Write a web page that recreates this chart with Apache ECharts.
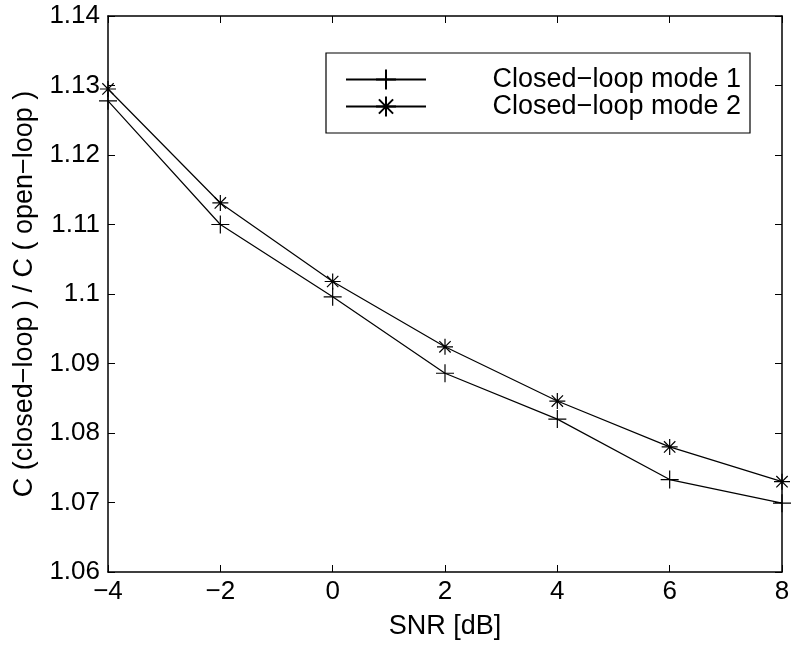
<!DOCTYPE html>
<html>
<head>
<meta charset="utf-8">
<script src="https://cdn.jsdelivr.net/npm/echarts@6/dist/echarts.min.js"></script>
<style>
  html, body { margin: 0; padding: 0; background: #fff; }
  #main { width: 791px; height: 646px; }
</style>
</head>
<body>
<div id="main"></div>
<script>
var snr = [-4, -2, 0, 2, 4, 6, 8];
var mode1 = [1.1278, 1.1100, 1.0996, 1.0886, 1.0820, 1.0733, 1.0699];
var mode2 = [1.1295, 1.1131, 1.1018, 1.0924, 1.0846, 1.0780, 1.0730];
var seriesNames = ['Closed\u2212loop mode 1', 'Closed\u2212loop mode 2'];

var plusPath = 'path://M10,0L10,20M0,10L20,10';
var starPath = 'path://M10,0L10,20M0,10L20,10M2.9,2.9L17.1,17.1M2.9,17.1L17.1,2.9';

var myChart = echarts.init(document.getElementById('main'));

function pairs(xs, ys) {
    return xs.map(function (x, i) { return [x, ys[i]]; });
}

function fmtMinus(v) {
    return String(v).replace('-', '\u2212');
}

var font = 'Liberation Sans, Arial, sans-serif';
var fs = 26;   // tick labels
var fsText = 27;   // axis names and legend

var option = {
    animation: false,
    backgroundColor: '#fff',
    grid: { left: 108, right: 9, top: 16, bottom: 74, outerBoundsMode: 'none', containLabel: false },
    legend: {
        orient: 'vertical',
        left: 326,
        top: 53,
        itemWidth: 80,
        itemHeight: 25,
        itemGap: 0,
        padding: [13, 9, 13, 19],
        borderColor: '#000',
        borderWidth: 1.2,
        backgroundColor: '#fff',
        data: seriesNames,
        formatter: '{t|{name}}',
        textStyle: {
            color: '#000', fontFamily: font, fontSize: fsText,
            rich: { t: { width: 310, align: 'right', lineHeight: 25, fontSize: fsText, fontFamily: font, color: '#000' } }
        }
    },
    xAxis: [{
        type: 'value', min: -4, max: 8, interval: 2,
        name: 'SNR [dB]', nameLocation: 'middle', nameGap: 41,
        nameTextStyle: { color: '#000', fontFamily: font, fontSize: fsText },
        axisLine: { onZero: false, lineStyle: { color: '#000', width: 1.5 } },
        axisTick: { inside: true, length: 7, lineStyle: { color: '#000' } },
        axisLabel: { color: '#000', fontFamily: font, fontSize: fs, margin: 7, formatter: fmtMinus },
        splitLine: { show: false }
    }, {
        type: 'value', position: 'top', min: -4, max: 8, interval: 2,
        axisLine: { onZero: false, lineStyle: { color: '#000', width: 1.5 } },
        axisTick: { inside: true, length: 7, lineStyle: { color: '#000' } },
        axisLabel: { show: false },
        splitLine: { show: false }
    }],
    yAxis: [{
        type: 'value', min: 1.06, max: 1.14, interval: 0.01,
        name: 'C (closed\u2212loop ) / C ( open\u2212loop )',
        nameLocation: 'middle', nameGap: 66,
        nameTextStyle: { color: '#000', fontFamily: font, fontSize: fsText },
        axisLine: { onZero: false, lineStyle: { color: '#000', width: 1.5 } },
        axisTick: { inside: true, length: 7, lineStyle: { color: '#000' } },
        axisLabel: {
            color: '#000', fontFamily: font, fontSize: fs, margin: 8,
            formatter: function (v) { return String(Math.round(v * 100) / 100); }
        },
        splitLine: { show: false }
    }, {
        type: 'value', position: 'right', min: 1.06, max: 1.14, interval: 0.01,
        axisLine: { onZero: false, lineStyle: { color: '#000', width: 1.5 } },
        axisTick: { inside: true, length: 7, lineStyle: { color: '#000' } },
        axisLabel: { show: false },
        splitLine: { show: false }
    }],
    series: [{
        name: seriesNames[0],
        type: 'line',
        data: pairs(snr, mode1),
        symbol: plusPath,
        symbolSize: 18,
        showAllSymbol: true,
        lineStyle: { color: '#000', width: 1.2 },
        itemStyle: { color: 'none', borderColor: '#000', borderWidth: 1.2 },
        clip: false
    }, {
        name: seriesNames[1],
        type: 'line',
        data: pairs(snr, mode2),
        symbol: starPath,
        symbolSize: 16,
        showAllSymbol: true,
        lineStyle: { color: '#000', width: 1.2 },
        itemStyle: { color: 'none', borderColor: '#000', borderWidth: 1.2 },
        clip: false
    }]
};

myChart.setOption(option);
</script>
</body>
</html>
